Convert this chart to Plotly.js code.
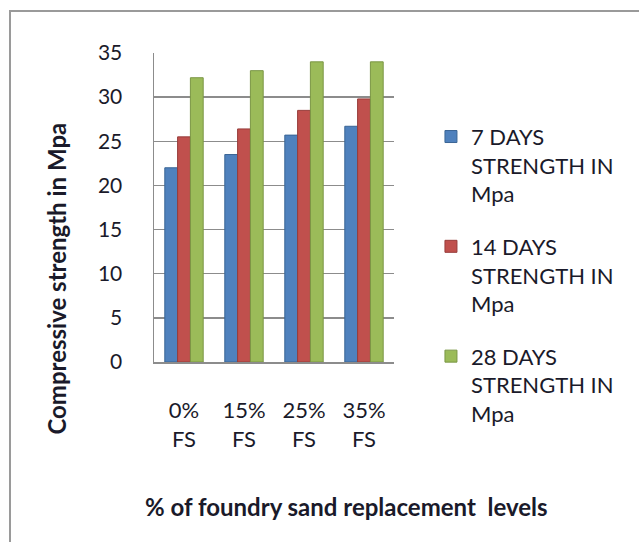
<!DOCTYPE html>
<html>
<head>
<meta charset="utf-8">
<script src="https://cdn.plot.ly/plotly-3.0.1.min.js"></script>
<style>
  html, body { margin: 0; padding: 0; background: #ffffff; }
  #wrap { position: relative; width: 639px; height: 542px; overflow: hidden; }
  #chart { width: 639px; height: 542px; }
  #frame { position: absolute; left: 9px; top: 10px; width: 700px; height: 600px;
           border-left: 2px solid #9a9a9a; border-top: 2px solid #9a9a9a; pointer-events: none; }
</style>
</head>
<body>
<div id="wrap">
  <div id="chart"></div>
  <div id="frame"></div>
</div>
<script>
const categories = ["0%<br>FS", "15%<br>FS", "25%<br>FS", "35%<br>FS"];
const seriesNames = ["7 DAYS<br>STRENGTH IN<br>Mpa", "14 DAYS<br>STRENGTH IN<br>Mpa", "28 DAYS<br>STRENGTH IN<br>Mpa"];
const days7 = [22.0, 23.5, 25.7, 26.7];
const days14 = [25.5, 26.4, 28.5, 29.8];
const days28 = [32.2, 33.0, 34.0, 34.0];
const yTicks = [0, 5, 10, 15, 20, 25, 30, 35];
const xTitle = "% of foundry sand replacement  levels";
const yTitle = "Compressive strength in Mpa";

const colors = ["#4F81BD", "#C0504D", "#9BBB59"];
const edge = ["#3a6595", "#973c3a", "#7a9645"];
const FONT = "Lato, 'Open Sans', sans-serif";
const TXT = "#1a1a2a";

const seriesData = [days7, days14, days28];
const traces = seriesData.map((vals, i) => ({
  type: "bar",
  name: seriesNames[i],
  x: categories,
  y: vals,
  legendgroup: "g" + i,
  marker: { color: colors[i], line: { color: edge[i], width: 1 } },
  hoverinfo: "x+y+name"
}));

const layout = {
  width: 639,
  height: 542,
  margin: { l: 154, r: 245, t: 53, b: 180 },
  paper_bgcolor: "rgba(0,0,0,0)",
  plot_bgcolor: "#ffffff",
  barmode: "group",
  bargap: 0.36,
  bargroupgap: 0,
  font: { family: FONT, size: 20, color: TXT },
  xaxis: {
    type: "category",
    tickfont: { family: FONT, size: 22, color: TXT },
    ticklabelstandoff: 28,
    showgrid: false,
    showline: true,
    linecolor: "#8c8c8c",
    linewidth: 1.5,
    ticks: ""
  },
  yaxis: {
    range: [0, 35],
    tickvals: yTicks,
    ticktext: yTicks.map(String),
    tickfont: { family: FONT, size: 21, color: TXT },
    ticklabelstandoff: 26,
    showgrid: true,
    gridcolor: "#8c8c8c",
    gridwidth: 1.5,
    zeroline: false,
    showline: true,
    linecolor: "#8c8c8c",
    linewidth: 1.5,
    ticks: ""
  },
  showlegend: true,
  legend: {
    x: 1.154,
    xanchor: "left",
    y: 0.797,
    yanchor: "top",
    valign: "top",
    traceorder: "grouped",
    tracegroupgap: 21,
    maxheight: 520,
    font: { family: FONT, size: 22, color: TXT },
    bgcolor: "rgba(0,0,0,0)"
  },
  annotations: [
    {
      text: "<b>" + xTitle + "</b>",
      xref: "paper", yref: "paper",
      x: 0.80, y: -0.469,
      xanchor: "center", yanchor: "middle",
      showarrow: false,
      font: { family: FONT, size: 24, color: TXT }
    },
    {
      text: "<b>" + yTitle + "</b>",
      xref: "paper", yref: "paper",
      x: -0.404, y: 0.27,
      xanchor: "center", yanchor: "middle",
      textangle: -90,
      showarrow: false,
      font: { family: FONT, size: 24, color: TXT }
    }
  ]
};

Plotly.newPlot("chart", traces, layout, { displayModeBar: false, staticPlot: true });
</script>
</body>
</html>
